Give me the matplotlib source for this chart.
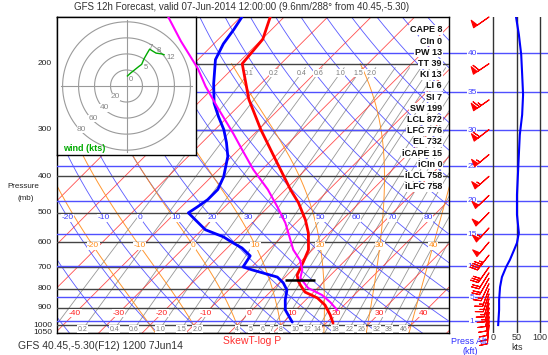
import numpy as np
import matplotlib
matplotlib.use('Agg')
import matplotlib.pyplot as plt

plt.rcParams['font.family'] = ['Liberation Sans', 'DejaVu Sans']

# ---------------- data ----------------
temp_p = [150, 172, 200, 249, 300, 361, 434, 471, 523, 567, 629, 678, 735, 762, 781, 816, 846, 884, 940, 988]
temp_c = [-63.2, -59.8, -58.9, -49.2, -39.5, -29.2, -18.9, -14.0, -8.5, -4.8, -0.9, 0.7, 2.3, 3.9, 5.3, 8.0, 12.2, 15.6, 19.1, 21.6]

dewp_p = [150, 162, 177, 195, 226, 255, 277, 300, 325, 354, 401, 434, 462, 483, 501, 523, 556, 581, 603, 622, 653, 699, 712, 744, 771, 806, 857, 911, 982]
dewp_c = [-69.7, -68.7, -67.8, -66.0, -60.9, -56.3, -52.2, -48.0, -44.4, -40.9, -37.2, -35.6, -35.6, -36.3, -37.0, -33.8, -29.2, -23.4, -19.8, -16.6, -12.9, -12.0, -9.2, -1.8, 0.9, 3.4, 5.3, 7.6, 12.0]

parcel_p = [148, 174, 206, 230, 261, 308, 340, 384, 434, 483, 533, 591, 629, 670, 712, 748, 796, 831, 868, 911]
parcel_c = [-87.4, -78.2, -68.0, -62.1, -54.7, -44.8, -39.1, -32.0, -24.1, -17.9, -12.4, -7.4, -4.4, -0.5, 2.3, 3.7, 7.8, 12.6, 16.1, 19.5]

lcl_p = 758
lcl_t = 4.2

speed_p = [150, 167, 189, 213, 242, 274, 310, 350, 396, 448, 507, 567, 603, 629, 669, 699, 744, 791, 857, 911, 1000]
speed_kt = [49, 55, 60, 62, 64, 62, 57, 55, 53, 51, 51, 55, 51, 45, 36, 28, 19, 15, 13, 13, 11]

barb_p = [150, 200, 250, 300, 350, 400, 450, 500, 550, 600, 650, 700, 725, 750, 775, 800, 825, 850, 875, 900, 925, 950, 975, 1000]
barb_spd = [49, 60, 64, 58, 55, 53, 52, 51, 53, 52, 45, 28, 22, 19, 16, 15, 14, 13, 13, 12, 12, 11, 11, 11]
barb_dir = [235, 236, 235, 232, 230, 228, 226, 224, 222, 220, 218, 215, 212, 210, 205, 200, 198, 195, 192, 190, 188, 186, 185, 185]

hodo_u = [1.2, 5, 10, 15, 19, 22, 26, 29, 32, 37, 44, 47]
hodo_v = [12.5, 16, 20, 24, 27, 34, 41, 46, 44, 41, 40, 39]
hodo_lbl_idx = [0, 4, 7, 8, 11]
hodo_lbl = ['0', '5', '7', '8', '12']

isotherms = list(range(-150, 60, 10))
iso_labels = [-40, -30, -20, -10, 0, 10, 20, 30, 40]
dry_thetas = list(range(-40, 260, 10))
dry_labels = [-20, -10, 0, 10, 20, 30, 40, 50, 60, 70, 80]
moist_thw = [-20, -10, 0, 10, 20, 30, 40]
mix_w = [0.1, 0.2, 0.4, 0.6, 1.0, 1.5, 2.0, 3, 4, 5, 6, 7, 8, 10, 12, 14, 16, 18, 22, 26, 32, 38, 46]
mix_top_labels = ['0.1', '0.2', '0.4', '0.6', '1.0', '1.5', '2.0']
mix_bot_labels = ['0.2', '0.4', '0.6', '1.0', '1.5', '2.0', '4', '5', '6', '7', '8', '10', '12', '14', '18', '22', '26', '32', '38', '46']
press_levels = [200, 300, 400, 500, 600, 700, 800, 900, 1000, 1050]
alt_kft = [1, 5, 10, 15, 20, 25, 30, 35, 40]

indices = [('CAPE', '8'), ('CIn', '0'), ('PW', '13'), ('TT', '39'), ('KI', '13'), ('LI', '6'),
           ('SI', '7'), ('SW', '199'), ('LCL', '872'), ('LFC', '776'), ('EL', '732'),
           ('iCAPE', '15'), ('iCIn', '0'), ('iLCL', '758'), ('iLFC', '758')]

# ---------------- geometry ----------------
W, H = 548, 355
fig = plt.figure(figsize=(W / 100, H / 100), dpi=100)
L, R, T, B = 57, 449, 17, 333
PTOP, PBOT = 150, 1050
XMIN, XMAX = -41.4, 48.7
pos = [L / W, 1 - B / H, (R - L) / W, (B - T) / H]
K = ((B - T) / np.log(PBOT / PTOP)) / ((R - L) / (XMAX - XMIN))


def skx(t, p):
    return np.asarray(t, float) + K * np.log(1000.0 / np.asarray(p, float))


def es(tc):
    return 6.112 * np.exp(17.67 * tc / (tc + 243.5))


def td_from_w(w, p):
    e = (w / 1000.0) * p / (0.622 + w / 1000.0)
    a = np.log(e / 6.112)
    return 243.5 * a / (17.67 - a)


def moist(t0, plist):
    Rd, cp, Lv, eps = 287.04, 1005.7, 2.501e6, 0.622

    def f(p, tk):
        e = es(tk - 273.15)
        rs = eps * e / (p - e)
        return (Rd * tk + Lv * rs) / (p * (cp + Lv ** 2 * rs * eps / (Rd * tk ** 2)))
    out = {}
    for direction in (-1, 1):
        tk, p = t0 + 273.15, 1000.0
        dp = direction * 1.0
        while (direction < 0 and p >= plist.min()) or (direction > 0 and p <= plist.max()):
            out[round(p, 3)] = tk - 273.15
            k1 = f(p, tk)
            k2 = f(p + dp, tk + dp * k1)
            tk += dp * 0.5 * (k1 + k2)
            p += dp
    ps = np.array(sorted(out.keys()))
    ts = np.array([out[k] for k in ps])
    return ps, ts


def std_p(kft):
    z = kft * 304.8
    if z <= 11000:
        return 1013.25 * (1 - 2.25577e-5 * z) ** 5.25588
    return 226.32 * np.exp(-(z - 11000) / 6341.6)


ax = fig.add_axes(pos)
ax.set_yscale('log')
ax.set_ylim(PBOT, PTOP)
ax.set_xlim(XMIN, XMAX)
ax.set_xticks([]); ax.set_yticks([])
ax.yaxis.set_minor_locator(matplotlib.ticker.NullLocator())
for s in ax.spines.values():
    s.set_color('black'); s.set_linewidth(1.0)
ax.set_zorder(1)

pp = np.geomspace(PBOT, PTOP, 200)
for t in isotherms:
    ax.plot(skx(t, pp), pp, color='#ff3030', lw=0.6, alpha=0.85, zorder=2)
for th in dry_thetas:
    tt = (th + 273.15) * (pp / 1000.0) ** 0.2857 - 273.15
    ax.plot(skx(tt, pp), pp, color='#3c3cff', lw=0.6, alpha=0.85, zorder=2)
pm = np.arange(PBOT, 199, -2.0)
for thw in moist_thw:
    ps, ts = moist(thw, pm)
    ax.plot(skx(ts, ps), ps, color='#ff8c1a', lw=0.7, alpha=0.9, zorder=2)
pw = np.geomspace(PBOT, 205, 100)
for w in mix_w:
    ax.plot(skx(td_from_w(w, pw), pw), pw, color='#8c8c8c', lw=0.6, alpha=0.9, zorder=1.5)

for p in press_levels:
    ax.axhline(p, color='#444444', lw=1.0, zorder=3)
for a in alt_kft:
    ax.axhline(std_p(a), color='#5050ff', lw=1.0, zorder=3)

bb = dict(facecolor='white', edgecolor='none', pad=0.3)
for t in iso_labels:
    ax.text(skx(t, 929), 929, str(t), color='#ff2020', fontsize=6, ha='center', va='center',
            bbox=bb, zorder=4)
for th in dry_labels:
    tt = (th + 273.15) * (516 / 1000.0) ** 0.2857 - 273.15
    ax.text(skx(tt, 516), 516, str(th), color='#3c3cff', fontsize=6, ha='center', va='center',
            bbox=bb, zorder=4)
for thw in moist_thw:
    ps, ts = moist(thw, pm)
    tl = np.interp(614, ps, ts)
    ax.text(skx(tl, 614), 614, str(thw), color='#ff8c1a', fontsize=6, ha='center', va='center',
            bbox=bb, zorder=4)
for lab in mix_top_labels:
    w = float(lab)
    ax.text(skx(td_from_w(w, 212), 212), 212, lab, color='#7a7a7a', fontsize=5, ha='center',
            va='center', bbox=bb, zorder=4)
for lab in mix_bot_labels:
    w = float(lab)
    ax.text(skx(td_from_w(w, 1025), 1025), 1025, lab, color='#7a7a7a', fontsize=5, ha='center',
            va='center', bbox=bb, zorder=4)

ax.plot(skx(temp_c, temp_p), temp_p, color='#ff0000', lw=2.0, zorder=6, solid_capstyle='round')
ax.plot(skx(dewp_c, dewp_p), dewp_p, color='#0000ff', lw=2.0, zorder=6, solid_capstyle='round')

ytr = ax.get_yaxis_transform()
for p in press_levels:
    ax.text(-0.013, p, str(p), transform=ytr, ha='right', va='center', fontsize=6,
            color='#222222', clip_on=False)
fig.text(23 / W, 1 - 187 / H, 'Pressure', ha='center', va='center', fontsize=5.8, color='#222222')
fig.text(26 / W, 1 - 199 / H, '(mb)', ha='center', va='center', fontsize=5.8, color='#222222')

# ---------------- hodograph inset ----------------
hax = fig.add_axes([57 / W, 1 - 155 / H, 139 / W, 138 / H])
hax.set_zorder(2)
hax.set_xlim(-87, 87); hax.set_ylim(-86, 86)
hax.set_xticks([]); hax.set_yticks([])
for s in hax.spines.values():
    s.set_color('black'); s.set_linewidth(1.0)
ang = np.linspace(0, 2 * np.pi, 200)
for r in (20, 40, 60, 80):
    hax.plot(r * np.cos(ang), r * np.sin(ang), color='#9a9a9a', lw=0.8)
    hax.text(-r * 0.70, -r * 0.68, str(r), color='#8a8a8a', fontsize=6, ha='center', va='center',
             bbox=dict(facecolor='white', edgecolor='none', pad=0.2))
hax.plot([-82, 82], [0, 0], color='#9a9a9a', lw=0.8)
hax.plot([0, 0], [-82, 82], color='#9a9a9a', lw=0.8)
hax.plot(hodo_u, hodo_v, color='#00aa00', lw=1.0)
lbl_dx = [2, 2, -1, 6, 3]
lbl_dy = [-4, -4, 2, 0, -3]
for i, lab, dx, dy in zip(hodo_lbl_idx, hodo_lbl, lbl_dx, lbl_dy):
    hax.text(hodo_u[i] + dx, hodo_v[i] + dy, lab, color='#808080', fontsize=5.5, ha='left',
             va='center')
hax.text(0.04, 0.05, 'wind (kts)', transform=hax.transAxes, color='#00aa00', fontsize=6.5,
         fontweight='bold', ha='left', va='center')

# ---------------- overlay (parcel, indices) ----------------
ax3 = fig.add_axes(pos)
ax3.set_zorder(3)
ax3.patch.set_visible(False)
ax3.set_yscale('log'); ax3.set_ylim(PBOT, PTOP); ax3.set_xlim(XMIN, XMAX)
ax3.axis('off')
ax3.plot(skx(parcel_c, parcel_p), parcel_p, color='#ff00ff', lw=1.5, zorder=5)
ax3.plot(skx(lcl_t, lcl_p), lcl_p, marker='_', ms=22, mew=1.8, color='black', zorder=7)
for i, (k, v) in enumerate(indices):
    fig.text(442 / W, 1 - (30 + i * 11.2) / H, f'{k} {v}', ha='right', va='center', fontsize=6.5,
             fontweight='bold', color='#111111',
             bbox=dict(facecolor='white', edgecolor='none', pad=0.4), zorder=10)

# ---------------- right panel ----------------
ax2 = fig.add_axes([R / W, 1 - B / H, (W - R) / W, (B - T) / H])
ax2.set_yscale('log'); ax2.set_ylim(PBOT, PTOP)
ax2.set_xlim((R - 493) / 0.47, (W - 493) / 0.47)
ax2.set_xticks([]); ax2.set_yticks([])
ax2.yaxis.set_minor_locator(matplotlib.ticker.NullLocator())
for s in ax2.spines.values():
    s.set_visible(False)
for a in alt_kft:
    ax2.axhline(std_p(a), color='#5050ff', lw=1.0, zorder=1)
    ax2.text((472 - 493) / 0.47, std_p(a), str(a), color='#4040ff', fontsize=6, ha='center',
             va='center', bbox=dict(facecolor='white', edgecolor='none', pad=0.5), zorder=2)
for xk in (0, 50, 100):
    ax2.plot([xk, xk], [PBOT, PTOP], color='#333333', lw=1.0, zorder=2)
ax2.plot(speed_kt, speed_p, color='#0000ff', lw=1.5, zorder=3)
bd = np.radians(barb_dir)
bu = -np.array(barb_spd) * np.sin(bd)
bv = -np.array(barb_spd) * np.cos(bd)
ax2.barbs(np.full(len(barb_p), -8.5), barb_p, bu, bv, length=5.2, color='red', lw=0.8,
          zorder=4, clip_on=False)

for xk in (0, 50, 100):
    fig.text((493 + xk * 0.47) / W, 1 - 338 / H, str(xk), ha='center', va='center', fontsize=6.5,
             color='#333333')
fig.text(517 / W, 1 - 348 / H, 'kts', ha='center', va='center', fontsize=6.5, color='#333333')
fig.text(470 / W, 1 - 342 / H, 'Press Alt.', ha='center', va='center', fontsize=6.5, color='#3030ff')
fig.text(470 / W, 1 - 352 / H, '(kft)', ha='center', va='center', fontsize=6.5, color='#3030ff')

fig.text(242 / W, 1 - 7 / H, 'GFS 12h Forecast, valid 07-Jun-2014 12:00:00 (9.6nm/288° from 40.45,-5.30)',
         ha='center', va='center', fontsize=7, color='#333333')
fig.text(18 / W, 1 - 346 / H, 'GFS 40.45,-5.30(F12) 1200 7Jun14', ha='left', va='center',
         fontsize=7.5, color='#333333')
fig.text(252 / W, 1 - 341 / H, 'SkewT-log P', ha='center', va='center', fontsize=7.5, color='#ff3030')

fig.savefig('out.png', dpi=100)
